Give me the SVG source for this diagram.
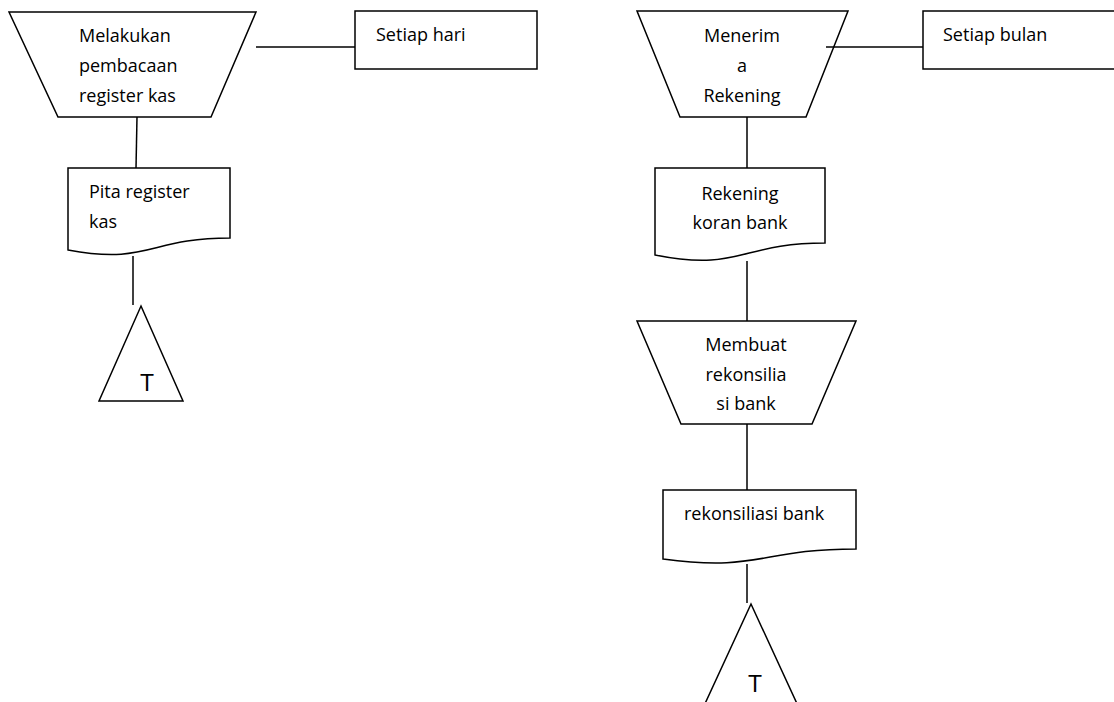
<svg xmlns="http://www.w3.org/2000/svg" width="1114" height="702" viewBox="0 0 1114 702">
<style>
.s{fill:#fff;stroke:#000;stroke-width:1.5;stroke-linejoin:miter}
.c{fill:none;stroke:#000;stroke-width:1.5}
.t{font-family:"Open Sans","Noto Sans",sans-serif;font-size:18px;fill:#000}
.m{text-anchor:middle}
.T{font-family:"Liberation Sans",Arial,sans-serif;font-size:23px;fill:#000;text-anchor:middle}
</style>
<rect width="1114" height="702" fill="#fff"/>
<g id="proc1">
<polygon class="s" points="9,12 256,12 211,117 58,117"/>
<text class="t" x="79" y="42">Melakukan</text>
<text class="t" x="79" y="72">pembacaan</text>
<text class="t" x="79" y="102">register kas</text>
</g>
<g id="note1">
<rect class="s" x="355" y="11" width="182" height="58"/>
<text class="t" x="376" y="41">Setiap hari</text>
</g>
<g id="doc1">
<path class="s" d="M68,168 H230 V238 C149,238 149,265 68,250 Z"/>
<text class="t" x="89" y="198">Pita register</text>
<text class="t" x="89" y="228">kas</text>
</g>
<g id="term1">
<polygon class="s" points="141,306 183,401 99,401"/>
<text class="T" x="147" y="391">T</text>
</g>
<g id="proc2">
<polygon class="s" points="637,11 848,11 806,117 680,117"/>
<text class="t m" x="742" y="42">Menerim</text>
<text class="t m" x="742" y="72">a</text>
<text class="t m" x="742" y="102">Rekening</text>
</g>
<g id="note2">
<rect class="s" x="923" y="11" width="200" height="58"/>
<text class="t" x="943" y="41">Setiap bulan</text>
</g>
<g id="doc2">
<path class="s" d="M655,168 H825 V243 C740,243 740,272 655,255 Z"/>
<text class="t m" x="740" y="200">Rekening</text>
<text class="t m" x="740" y="229">koran bank</text>
</g>
<g id="proc3">
<polygon class="s" points="637,321 856,321 812,424 681,424"/>
<text class="t m" x="746" y="351">Membuat</text>
<text class="t m" x="746" y="381">rekonsilia</text>
<text class="t m" x="746" y="410">si bank</text>
</g>
<g id="doc3">
<path class="s" d="M663,490 H856 V549 C760,549 760,572 663,559 Z"/>
<text class="t" x="684" y="520">rekonsiliasi bank</text>
</g>
<g id="term2">
<polygon class="s" points="751,604 799,708 703,708"/>
<text class="T" x="755" y="692">T</text>
</g>
<g id="connectors">
<line class="c" x1="256" y1="47" x2="355" y2="47"/>
<line class="c" x1="137" y1="117" x2="136" y2="168"/>
<line class="c" x1="133" y1="256" x2="133" y2="305"/>
<line class="c" x1="826" y1="47" x2="923" y2="47"/>
<line class="c" x1="747" y1="117" x2="747" y2="168"/>
<line class="c" x1="747" y1="261" x2="747" y2="321"/>
<line class="c" x1="747" y1="424" x2="747" y2="490"/>
<line class="c" x1="747" y1="564" x2="747" y2="603"/>
</g>
</svg>
